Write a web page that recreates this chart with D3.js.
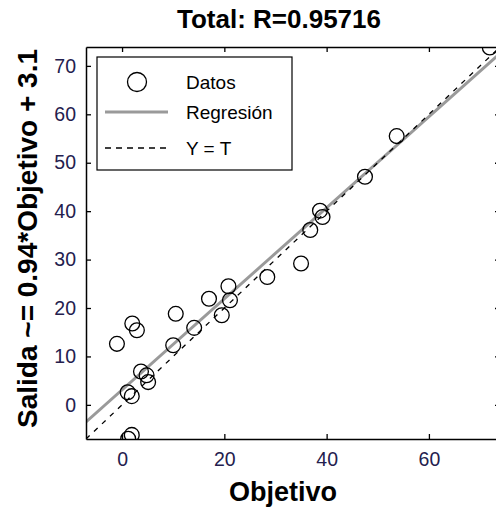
<!DOCTYPE html>
<html>
<head>
<meta charset="utf-8">
<script src="https://cdn.jsdelivr.net/npm/d3@7"></script>
<style>
  html, body { margin: 0; padding: 0; background: #fff; }
  svg { display: block; }
  text { font-family: Arial, "Liberation Sans", sans-serif; }
</style>
</head>
<body>
<svg id="chart" width="496" height="509"></svg>
<script>
// Targets (Objetivo) and network outputs (Salida)
const targets = [71.9, 53.7, 47.5, 38.7, 39.2, 36.8, 35.0, 28.4, 20.8, 21.1, 17.0, 19.5, 14.1,
                 10.5, 10.0, 2.0, 2.9, -1.0, 3.7, 4.8, 5.1, 1.1, 1.9, 1.9, 1.2];
const outputs = [73.8, 55.5, 47.1, 40.1, 38.8, 36.1, 29.2, 26.4, 24.5, 21.6, 21.9, 18.5, 15.9,
                 18.8, 12.3, 16.8, 15.4, 12.6, 6.9, 6.1, 4.7, 2.6, 1.8, -6.2, -7.0];
const axisLimits = [-7.05, 73.9];
const xTicks = [0, 20, 40, 60];
const yTicks = [0, 10, 20, 30, 40, 50, 60, 70];
const fitSlope = 0.94, fitIntercept = 3.1;
const titleText = "Total: R=0.95716";
const xLabel = "Objetivo";
const yLabel = "Salida ~= 0.94*Objetivo + 3.1";
const legendLabels = ["Datos", "Regresión", "Y = T"];

const svg = d3.select("#chart");
const box = { left: 86, top: 47, right: 500, bottom: 439 };

const x = d3.scaleLinear().domain(axisLimits).range([box.left, box.right]);
const y = d3.scaleLinear().domain(axisLimits).range([box.bottom, box.top]);

const tickColor = "#24204e";
const fitColor = "#9a9a9a";

// Clip marks to the plot box
svg.append("clipPath").attr("id", "plotclip")
  .append("rect").attr("x", box.left).attr("y", box.top)
  .attr("width", box.right - box.left).attr("height", box.bottom - box.top);

const plot = svg.append("g").attr("clip-path", "url(#plotclip)");

// Fitted line
const fitLine = d3.line().x(d => x(d)).y(d => y(fitSlope * d + fitIntercept));
plot.append("path").datum(axisLimits)
  .attr("d", fitLine)
  .attr("fill", "none").attr("stroke", fitColor).attr("stroke-width", 3);

// Identity line Y = T
const idLine = d3.line().x(d => x(d)).y(d => y(d));
plot.append("path").datum(axisLimits)
  .attr("d", idLine)
  .attr("fill", "none").attr("stroke", "#000").attr("stroke-width", 1.3)
  .attr("stroke-dasharray", "5,6");

// Data circles
plot.selectAll("circle.pt").data(targets.map((t, i) => [t, outputs[i]]))
  .join("circle").attr("class", "pt")
  .attr("cx", d => x(d[0])).attr("cy", d => y(d[1]))
  .attr("r", 7.4)
  .attr("fill", "none").attr("stroke", "#000").attr("stroke-width", 1.3);

// Axes: ticks pointing inward, box lines
const axisG = svg.append("g");
const tickLen = 5;

function drawAxis(axisGen, transform) {
  const g = axisG.append("g").attr("transform", transform).call(axisGen);
  g.select(".domain").attr("stroke", "#000").attr("stroke-width", 1.5);
  g.selectAll(".tick line").attr("stroke", "#000").attr("stroke-width", 1.3);
  return g;
}

const bottomAxis = drawAxis(
  d3.axisBottom(x).tickValues(xTicks).tickSizeInner(-tickLen).tickSizeOuter(0).tickPadding(13),
  `translate(0,${box.bottom})`);
bottomAxis.selectAll(".tick text")
  .attr("font-size", 19.5).attr("fill", tickColor);

drawAxis(
  d3.axisTop(x).tickValues(xTicks).tickSizeInner(-tickLen).tickSizeOuter(0).tickFormat(""),
  `translate(0,${box.top})`);

const leftAxis = drawAxis(
  d3.axisLeft(y).tickValues(yTicks).tickSizeInner(-tickLen).tickSizeOuter(0).tickPadding(10),
  `translate(${box.left},0)`);
leftAxis.selectAll(".tick text")
  .attr("font-size", 19.5).attr("fill", tickColor);

drawAxis(
  d3.axisRight(y).tickValues(yTicks).tickSizeInner(-tickLen).tickSizeOuter(0).tickFormat(""),
  `translate(${box.right},0)`);

// Legend
const lg = svg.append("g");
lg.append("rect").attr("x", 97).attr("y", 57).attr("width", 195).attr("height", 113)
  .attr("fill", "#fff").attr("stroke", "#000").attr("stroke-width", 1.2);
const rowY = [82, 112, 148];
lg.append("circle").attr("cx", 137).attr("cy", rowY[0]).attr("r", 9.5)
  .attr("fill", "none").attr("stroke", "#000").attr("stroke-width", 1.3);
lg.append("line").attr("x1", 105).attr("x2", 168).attr("y1", rowY[1]).attr("y2", rowY[1])
  .attr("stroke", fitColor).attr("stroke-width", 3);
lg.append("line").attr("x1", 105).attr("x2", 168).attr("y1", rowY[2]).attr("y2", rowY[2])
  .attr("stroke", "#000").attr("stroke-width", 1.3).attr("stroke-dasharray", "6,5");
lg.selectAll("text.lbl").data(legendLabels).join("text").attr("class", "lbl")
  .attr("x", 186).attr("y", (d, i) => rowY[i] + 6.5)
  .attr("font-size", 19).attr("fill", "#000")
  .text(d => d);

// Title and axis labels
svg.append("text").attr("x", 279).attr("y", 28).attr("text-anchor", "middle")
  .attr("font-size", 26).attr("font-weight", "bold").text(titleText);
svg.append("text").attr("x", 283).attr("y", 501).attr("text-anchor", "middle")
  .attr("font-size", 27).attr("font-weight", "bold").text(xLabel);
svg.append("text")
  .attr("transform", `translate(37,${(45 + 432) / 2}) rotate(-90)`)
  .attr("text-anchor", "middle")
  .attr("font-size", 28).attr("font-weight", "bold").text(yLabel);
</script>
</body>
</html>
